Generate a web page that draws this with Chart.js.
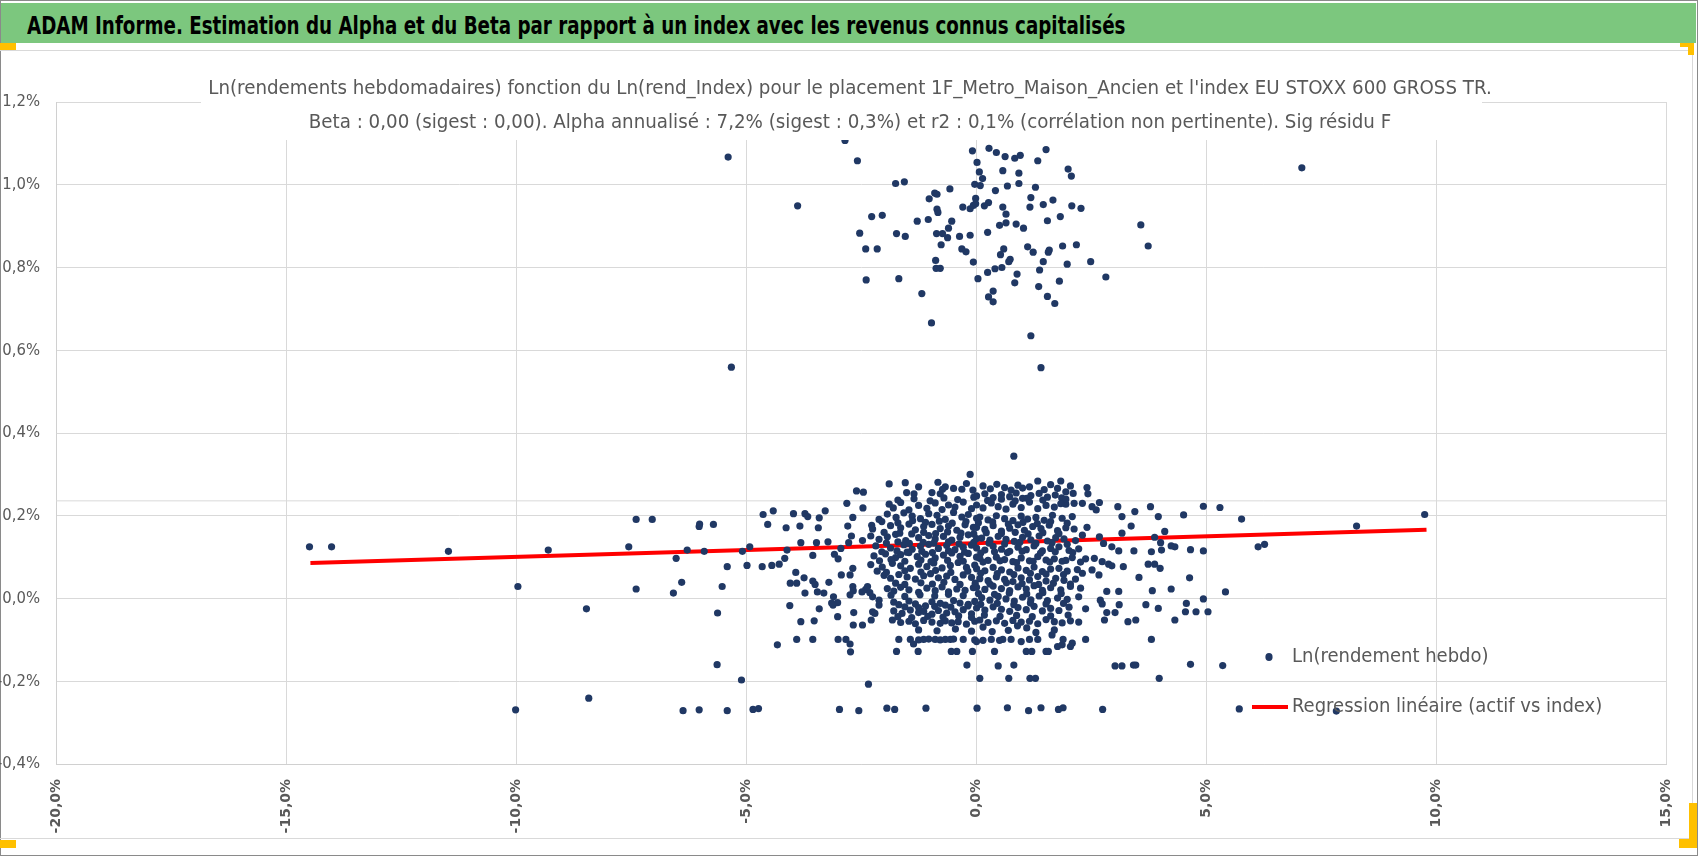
<!DOCTYPE html>
<html lang="fr">
<head>
<meta charset="utf-8">
<title>ADAM Informe - Alpha et Beta</title>
<script src="https://cdn.jsdelivr.net/npm/chart.js@4.4.1/dist/chart.umd.min.js"></script>
<style>
  html, body { margin: 0; padding: 0; background: #fff; }
  #page { position: relative; width: 1698px; height: 856px; overflow: hidden; }
  #frame { position: absolute; left: 0; top: 0; width: 1698px; height: 856px; border: 1px solid #8a8a8a; box-sizing: border-box; }
  #header { position: absolute; left: 1px; top: 3px; width: 1695px; height: 40px; background: #7cc77e; }
  #header span {
    position: absolute; left: 26px; top: 11px; white-space: nowrap; color: #000;
    font: bold 24px/24px "Liberation Sans Narrow", "DejaVu Sans Condensed", sans-serif;
    transform: scaleX(0.847); transform-origin: 0 50%;
  }
  #box { position: absolute; left: 0; top: 50px; width: 1693px; height: 789px; box-sizing: border-box;
    border-top: 1px solid #d9d9d9; border-right: 1px solid #d9d9d9; border-bottom: 1px solid #d9d9d9; }
  #chart { position: absolute; left: 0; top: 50px; }
  .handle { position: absolute; background: #ffc000; }
</style>
</head>
<body>
<div id="page">
  <div id="frame"></div>
  <div id="header"><span>ADAM Informe. Estimation du Alpha et du Beta par rapport à un index avec les revenus connus capitalisés</span></div>
  <div id="box"></div>
  <canvas id="chart" width="1698" height="788"></canvas>
  <div class="handle" style="left:0;top:43px;width:16px;height:7px"></div>
  <div class="handle" style="left:1680px;top:43px;width:14px;height:4px"></div>
  <div class="handle" style="left:1688px;top:43px;width:6px;height:12px"></div>
  <div class="handle" style="left:0;top:840px;width:16px;height:8px"></div>
  <div class="handle" style="left:1689px;top:803px;width:8px;height:45px"></div>
  <div class="handle" style="left:1679px;top:839px;width:18px;height:9px"></div>
</div>
<script>
// x = Ln(rend_Index) in %, y = Ln(rendement hebdo) in %
const titleLines = [
  "Ln(rendements hebdomadaires) fonction du Ln(rend_Index) pour le placement 1F_Metro_Maison_Ancien et l'index EU STOXX 600 GROSS TR.",
  "Beta : 0,00 (sigest : 0,00). Alpha annualisé : 7,2% (sigest : 0,3%) et r2 : 0,1% (corrélation non pertinente). Sig résidu F"
];
const xTicks = { min: -20, max: 15, step: 5 };
const yTicks = { min: -0.4, max: 1.2, step: 0.2 };

// weeks far above the main cloud
const topCluster = [
  [-2.85,1.107],[-2.58,1.058],[-1.75,1.003],[-1.56,1.007],[-2.27,0.923],[-2.04,0.926],[-2.53,0.883],[-2.40,0.845],
  [-2.15,0.845],[-1.73,0.882],[-1.54,0.875],[-2.39,0.770],[-1.68,0.773],[-1.18,0.737],[-0.97,0.666],[-1.28,0.912],
  [-1.04,0.916],[-1.02,0.966],[-0.90,0.980],[-0.85,0.977],[-0.57,0.990],[-0.85,0.941],[-0.83,0.933],[-0.53,0.912],
  [-0.60,0.895],[-0.62,0.872],[-0.86,0.882],[-0.73,0.882],[-0.76,0.855],[-0.88,0.817],[-0.87,0.798],[-0.78,0.798],
  [-0.36,0.875],[-0.31,0.845],[-0.22,0.838],[-0.13,0.878],[-0.29,0.946],[-0.13,0.942],[-0.06,0.950],[-0.01,0.954],
  [-0.01,0.967],[-0.03,1.001],[0.09,0.998],[0.14,1.015],[0.07,1.031],[0.02,1.054],[-0.08,1.082],[0.28,1.088],
  [0.44,1.078],[0.63,1.068],[0.84,1.064],[0.96,1.071],[1.52,1.085],[1.34,1.058],[0.58,1.034],[0.93,1.028],
  [0.93,1.003],[0.68,0.997],[0.42,0.986],[1.29,0.994],[1.19,0.969],[1.17,0.946],[1.46,0.952],[1.67,0.963],
  [2.00,1.038],[2.07,1.021],[2.08,0.949],[2.28,0.943],[1.83,0.923],[1.55,0.913],[0.27,0.957],[0.18,0.949],
  [0.58,0.946],[0.65,0.929],[0.65,0.908],[0.51,0.902],[0.87,0.905],[1.03,0.895],[0.25,0.885],[0.60,0.845],
  [0.53,0.831],[0.74,0.820],[0.71,0.814],[0.56,0.800],[0.41,0.797],[0.25,0.788],[0.04,0.773],[-0.06,0.813],
  [0.89,0.784],[0.84,0.763],[0.37,0.743],[0.27,0.729],[0.37,0.717],[1.12,0.850],[1.24,0.837],[1.59,0.842],
  [1.57,0.837],[1.88,0.852],[2.18,0.855],[1.46,0.814],[1.38,0.794],[1.98,0.808],[2.49,0.814],[2.82,0.777],
  [1.81,0.767],[1.36,0.754],[1.55,0.730],[1.71,0.713],[1.19,0.635],[1.41,0.558],[3.58,0.903],[3.74,0.852],
  [-5.39,1.067],[-5.32,0.559],[-3.88,0.949],[7.08,1.041]
];

// left tail, index below about -3 %
const leftTail = [
  [-14.49,0.125],[-14.01,0.125],[-11.47,0.114],[-9.30,0.117],[-9.96,0.029],[-8.47,-0.025],[-8.42,-0.241],[-10.01,-0.269],
  [-7.55,0.125],[-7.39,0.191],[-7.04,0.191],[-7.39,0.023],[-6.58,0.013],[-6.40,0.039],[-6.52,0.097],[-6.28,0.117],
  [-6.02,0.174],[-6.01,0.180],[-5.71,0.179],[-5.91,0.114],[-5.41,0.077],[-5.52,0.029],[-5.62,-0.035],[-5.63,-0.160],
  [-5.10,-0.197],[-6.37,-0.271],[-6.02,-0.269],[-5.41,-0.271],[-4.85,-0.268],[-4.73,-0.266],[-5.08,0.114],[-4.92,0.125],
  [-4.98,0.080],[-4.65,0.077],[-4.44,0.080],[-4.28,0.083],[-4.16,0.097],[-4.11,0.117],[-4.63,0.203],[-4.41,0.212],
  [-4.53,0.179],[-4.13,0.171],[-3.97,0.205],[-3.83,0.175],[-3.72,0.205],[-3.66,0.198],[-3.81,0.135],[-3.47,0.135],
  [-3.41,0.195],[-3.43,0.171],[-3.28,0.212],[-3.22,0.137],[-3.55,0.104],[-3.92,0.063],[-4.04,0.037],[-3.90,0.037],
  [-3.74,0.050],[-3.55,0.042],[-3.50,0.034],[-3.72,0.013],[-3.45,0.016],[-3.31,0.013],[-3.20,0.039],[-4.05,-0.017],
  [-3.41,-0.025],[-3.81,-0.056],[-3.52,-0.054],[-3.90,-0.099],[-3.55,-0.099],[-4.32,-0.112],[-3.14,-0.011]
];

// main cloud, negative index side
const denseWest = [
  [-2.81,0.230],[-2.60,0.260],[-2.45,0.257],[-2.46,0.219],[-2.68,0.196],[-2.79,0.175],[-2.71,0.151],[-2.27,0.177],
  [-2.11,0.191],[-2.77,0.135],[-2.47,0.140],[-3.08,0.107],[-3.00,0.096],[-2.94,0.121],[-2.68,0.073],[-2.93,0.057],
  [-2.74,0.057],[-2.68,0.029],[-2.74,0.009],[-2.67,0.019],[-2.48,0.016],[-2.40,0.022],[-2.31,0.014],[-2.25,0.004],
  [-2.36,0.029],[-3.10,0.004],[-3.01,-0.010],[-3.11,-0.016],[-2.66,-0.034],[-3.01,-0.044],[-2.67,-0.064],[-2.47,-0.064],
  [-2.28,-0.052],[-2.25,-0.032],[-2.20,-0.036],[-2.11,-0.004],[-2.11,-0.016],[-3.00,-0.099],[-2.83,-0.099],[-2.74,-0.110],
  [-2.73,-0.129],[-2.34,-0.207],[-2.97,-0.268],[-2.55,-0.271],[-1.94,-0.265],[-1.77,-0.268],[-1.09,-0.265],[0.02,-0.265],
  [-0.20,-0.161],[0.08,-0.193],
  [-1.89,0.277],[-1.54,0.280],[-1.25,0.270],[-1.51,0.256],[-1.35,0.253],[-0.13,0.300],[-0.21,0.278],[-0.83,0.281],
  [-0.67,0.270],[-0.49,0.266],[-0.31,0.264],[-0.07,0.262],[-0.96,0.256],[-0.78,0.253],[-0.73,0.264],
  [-1.89,0.228],[-1.80,0.219],[-1.64,0.232],[-1.46,0.214],[-1.25,0.225],[-1.07,0.218],[-0.89,0.231],[-0.74,0.215],[-0.60,0.226],[-0.46,0.221],[-0.28,0.233],[-0.10,0.217],
  [-1.93,0.204],[-1.74,0.196],[-1.57,0.207],[-1.39,0.199],[-1.21,0.193],[-1.03,0.205],[-0.85,0.201],[-0.67,0.191],[-0.49,0.208],[-0.31,0.197],[-0.17,0.203],[0.01,0.194],
  [-2.25,0.168],[-1.86,0.176],[-1.64,0.171],[-1.46,0.180],[-1.32,0.166],[-1.14,0.174],[-0.96,0.179],[-0.78,0.169],[-0.60,0.175],[-0.42,0.165],[-0.24,0.178],[-0.06,0.172],
  [-2.29,0.151],[-2.11,0.143],[-1.93,0.149],[-1.75,0.155],[-1.53,0.140],[-1.25,0.147],[-1.03,0.152],[-0.89,0.144],[-0.71,0.150],[-0.53,0.141],[-0.35,0.148],[-0.17,0.154],[0.01,0.145],
  [-2.18,0.127],[-1.86,0.122],[-1.57,0.130],[-1.39,0.119],[-1.21,0.126],[-1.03,0.131],[-0.82,0.121],[-0.64,0.128],[-0.46,0.118],[-0.28,0.124],[-0.10,0.129],
  [-2.22,0.103],[-1.97,0.108],[-1.75,0.099],[-1.64,0.106],[-1.46,0.111],[-1.28,0.101],[-1.10,0.107],[-0.89,0.098],[-0.71,0.105],[-0.53,0.110],[-0.35,0.102],[-0.17,0.109],[0.01,0.100],
  [-2.29,0.082],[-2.04,0.076],[-1.82,0.085],[-1.64,0.079],[-1.43,0.073],[-1.25,0.083],[-1.07,0.077],[-0.92,0.086],[-0.74,0.074],[-0.56,0.080],[-0.39,0.087],[-0.21,0.075],[-0.03,0.081],
  [-2.00,0.056],[-1.86,0.049],[-1.68,0.058],[-1.50,0.052],[-1.32,0.047],[-1.14,0.055],[-0.99,0.060],[-0.82,0.050],[-0.64,0.054],[-0.46,0.046],[-0.28,0.057],[-0.10,0.051],
  [-1.93,0.024],[-1.79,0.018],[-1.64,0.027],[-1.46,0.021],[-1.25,0.015],[-1.07,0.025],[-0.89,0.019],[-0.74,0.028],[-0.60,0.016],[-0.42,0.023],[-0.24,0.020],[-0.06,0.026],
  [-1.79,-0.009],[-1.68,-0.015],[-1.46,-0.006],[-1.32,-0.013],[-1.10,-0.018],[-0.96,-0.008],[-0.78,-0.012],[-0.67,-0.016],[-0.49,-0.005],[-0.35,-0.011],[-0.17,-0.014],[-0.03,-0.007],
  [-1.79,-0.030],[-1.61,-0.036],[-1.43,-0.028],[-1.25,-0.034],[-1.14,-0.031],[-0.96,-0.038],[-0.82,-0.029],[-0.64,-0.035],[-0.46,-0.032],[-0.28,-0.027],[-0.10,-0.037],
  [-1.82,-0.052],[-1.64,-0.058],[-1.46,-0.055],[-1.32,-0.061],[-1.14,-0.053],[-0.96,-0.057],[-0.78,-0.060],[-0.67,-0.054],[-0.53,-0.059],[-0.39,-0.056],[-0.21,-0.062],[-0.03,-0.055],
  [-1.68,-0.099],[-1.43,-0.099],[-1.25,-0.100],[-1.14,-0.099],[-1.03,-0.098],[-0.89,-0.099],[-0.78,-0.100],[-0.67,-0.099],[-0.56,-0.099],[-0.49,-0.098],[-0.28,-0.099],[-0.03,-0.100],
  [-1.73,-0.128],[-1.36,-0.110],[-1.26,-0.128],[-0.54,-0.128],[-0.42,-0.128],[-0.08,-0.128]
];

// main cloud, positive index side
const denseEast = [
  [0.82,0.344],[1.34,0.284],[1.84,0.284],[2.05,0.272],[2.41,0.268],[1.95,0.258],[2.11,0.254],[2.43,0.253],
  [1.95,0.228],[2.13,0.230],[2.31,0.230],[2.52,0.222],[2.68,0.232],[2.61,0.214],[3.08,0.222],[3.17,0.198],
  [3.45,0.210],[3.79,0.222],[3.96,0.198],[4.51,0.202],[3.37,0.175],[3.17,0.158],[2.41,0.172],[2.31,0.153],
  [2.68,0.149],[2.77,0.133],[2.95,0.125],[3.10,0.115],[3.43,0.115],[3.81,0.113],[4.01,0.135],[4.10,0.162],
  [4.03,0.117],[4.24,0.127],[3.88,0.148],[4.32,0.125],[2.38,0.096],[2.57,0.097],[2.74,0.089],[2.88,0.083],
  [2.95,0.079],[3.20,0.077],[3.74,0.083],[3.88,0.083],[4.00,0.073],[2.52,0.069],[2.67,0.057],[2.31,0.061],
  [3.54,0.051],[3.83,0.019],[4.24,0.023],[2.84,0.017],[3.10,0.017],[2.70,-0.004],[2.74,-0.013],[3.11,-0.015],
  [3.69,-0.015],[3.96,-0.024],[4.32,-0.052],[2.84,-0.034],[3.02,-0.034],[2.79,-0.052],[3.30,-0.056],[3.47,-0.052],
  [2.38,-0.099],[3.81,-0.099],[3.02,-0.163],[3.17,-0.163],[3.42,-0.161],[3.47,-0.161],[3.98,-0.193],
  [0.01,-0.104],[0.15,-0.101],[0.33,-0.099],[0.51,-0.101],[0.58,-0.099],[0.76,-0.099],[0.98,-0.104],[1.16,-0.099],
  [1.34,-0.099],[1.65,-0.088],[1.89,-0.099],[2.09,-0.108],[1.77,-0.116],[1.87,-0.112],[2.05,-0.116],[0.40,-0.128],
  [1.09,-0.128],[1.21,-0.128],[1.52,-0.128],[1.57,-0.128],[0.48,-0.163],[0.82,-0.161],[0.71,-0.193],[1.17,-0.193],
  [1.29,-0.193],[0.68,-0.264],[1.14,-0.271],[1.41,-0.264],[1.79,-0.268],[1.89,-0.264],[2.75,-0.268],
  [0.15,0.272],[0.31,0.265],[0.45,0.276],[0.62,0.268],[0.76,0.262],[0.91,0.274],[1.01,0.267],[1.16,0.270],[1.48,0.263],[1.62,0.275],[1.77,0.266],
  [0.01,0.248],[0.19,0.253],[0.37,0.244],[0.55,0.251],[0.73,0.246],[0.87,0.255],[1.01,0.242],[1.19,0.249],[1.37,0.254],[1.55,0.245],[1.72,0.250],[1.86,0.243],
  [0.01,0.226],[0.15,0.219],[0.33,0.231],[0.48,0.222],[0.65,0.216],[0.80,0.228],[0.98,0.220],[1.16,0.233],[1.34,0.217],[1.52,0.225],[1.70,0.221],[1.84,0.229],
  [0.08,0.197],[0.26,0.190],[0.44,0.200],[0.62,0.193],[0.80,0.188],[0.98,0.199],[1.12,0.192],[1.30,0.196],[1.48,0.189],[1.66,0.201],[1.87,0.194],[2.09,0.198],
  [0.01,0.172],[0.19,0.167],[0.37,0.176],[0.55,0.163],[0.73,0.170],[0.91,0.178],[1.05,0.165],[1.23,0.174],[1.41,0.169],[1.59,0.177],[1.77,0.164],[1.95,0.171],[2.13,0.168],
  [0.12,0.146],[0.30,0.141],[0.48,0.150],[0.65,0.143],[0.83,0.138],[1.01,0.148],[1.19,0.142],[1.37,0.151],[1.55,0.139],[1.73,0.147],[1.91,0.144],[2.16,0.140],
  [0.01,0.122],[0.19,0.117],[0.37,0.126],[0.55,0.119],[0.73,0.114],[0.91,0.124],[1.09,0.118],[1.26,0.127],[1.44,0.115],[1.62,0.121],[1.80,0.125],[2.02,0.116],[2.23,0.120],
  [0.08,0.097],[0.26,0.092],[0.44,0.100],[0.62,0.094],[0.80,0.089],[0.98,0.098],[1.16,0.091],[1.34,0.101],[1.52,0.093],[1.70,0.096],[1.87,0.090],[2.09,0.099],[2.27,0.088],
  [0.01,0.072],[0.19,0.067],[0.37,0.075],[0.55,0.069],[0.73,0.064],[0.91,0.074],[1.09,0.068],[1.26,0.076],[1.44,0.065],[1.62,0.071],[1.80,0.073],[1.98,0.066],[2.20,0.070],
  [0.08,0.048],[0.26,0.043],[0.44,0.052],[0.62,0.046],[0.80,0.041],[0.98,0.050],[1.16,0.045],[1.34,0.053],[1.52,0.042],[1.73,0.049],[1.91,0.044],[2.16,0.047],
  [0.01,0.027],[0.19,0.022],[0.37,0.030],[0.55,0.024],[0.73,0.019],[0.91,0.028],[1.09,0.023],[1.26,0.031],[1.44,0.020],[1.62,0.026],[1.84,0.021],[2.05,0.029],[2.27,0.025],
  [0.12,0.002],[0.30,-0.004],[0.48,0.005],[0.65,-0.001],[0.83,-0.006],[1.01,0.003],[1.19,-0.003],[1.37,0.006],[1.55,-0.005],[1.77,0.001],[1.98,-0.002],[2.23,0.004],
  [0.01,-0.023],[0.19,-0.028],[0.37,-0.020],[0.55,-0.026],[0.73,-0.031],[0.91,-0.022],[1.09,-0.027],[1.26,-0.019],[1.44,-0.030],[1.62,-0.024],[1.80,-0.029],[2.02,-0.021],[2.38,-0.025],
  [0.08,-0.052],[0.26,-0.058],[0.44,-0.054],[0.62,-0.060],[0.80,-0.053],[0.98,-0.057],[1.16,-0.055],[1.34,-0.061],[1.52,-0.051],[1.70,-0.056],[1.87,-0.059],[2.05,-0.054],[2.23,-0.057],
  [0.15,-0.069],[0.90,-0.066],[1.10,-0.071]
];

// core of the cloud, where single dots cannot be told apart
const denseCore = [
  [-1.70,0.238],[-1.35,0.241],[-1.00,0.236],[-0.70,0.243],[-0.40,0.239],[-0.05,0.245],[0.25,0.237],[0.55,0.240],[0.85,0.236],[1.10,0.242],[1.45,0.238],[1.95,0.240],
  [-2.05,0.186],[-1.70,0.183],[-1.38,0.188],[-1.10,0.184],[-0.80,0.187],[-0.52,0.182],[-0.22,0.186],[0.05,0.183],[0.36,0.185],[0.70,0.180],[1.02,0.184],[1.33,0.181],[1.62,0.186],[1.98,0.182],
  [-2.00,0.160],[-1.66,0.158],[-1.40,0.156],[-1.14,0.160],[-0.88,0.157],[-0.62,0.161],[-0.33,0.158],[-0.05,0.156],[0.22,0.159],[0.55,0.157],[0.85,0.160],[1.13,0.156],[1.45,0.159],[1.80,0.157],
  [-1.95,0.134],[-1.70,0.137],[-1.45,0.133],[-1.15,0.136],[-0.92,0.134],[-0.60,0.137],[-0.37,0.132],[-0.05,0.136],[0.28,0.134],[0.62,0.132],[0.95,0.136],[1.30,0.133],[1.65,0.135],[1.98,0.131],
  [-2.05,0.113],[-1.72,0.115],[-1.50,0.112],[-1.18,0.114],[-0.95,0.111],[-0.60,0.115],[-0.25,0.112],[0.10,0.110],[0.40,0.113],[0.68,0.111],[1.00,0.114],[1.40,0.110],[1.72,0.113],[2.10,0.111],
  [-2.10,0.091],[-1.85,0.094],[-1.55,0.090],[-1.20,0.093],[-0.98,0.089],[-0.62,0.092],[-0.28,0.090],[0.15,0.088],[0.52,0.091],[0.88,0.087],[1.24,0.090],[1.60,0.088],[1.95,0.092],
  [-2.15,0.066],[-1.95,0.063],[-1.55,0.067],[-1.20,0.064],[-0.88,0.068],[-0.55,0.063],[-0.18,0.066],[0.10,0.061],[0.46,0.060],[0.82,0.058],[1.18,0.061],[1.52,0.059],[1.90,0.058],
  [-1.75,0.037],[-1.55,0.034],[-1.20,0.038],[-0.95,0.035],[-0.70,0.039],[-0.35,0.034],[-0.02,0.037],[0.30,0.035],[0.66,0.038],[1.00,0.036],[1.36,0.034],[1.68,0.037],[2.05,0.035],
  [-1.85,0.008],[-1.55,0.005],[-1.22,0.009],[-0.90,0.006],[-0.60,0.010],[-0.28,0.007],[0.05,0.012],[0.40,0.010],[0.72,0.013],[1.10,0.011],[1.45,0.014],[1.85,0.012],
  [-1.55,-0.020],[-1.25,-0.022],[-0.90,-0.019],[-0.55,-0.021],[-0.18,-0.018],[0.10,-0.014],[0.46,-0.012],[0.82,-0.015],[1.18,-0.011],[1.52,-0.013],[1.90,-0.012],
  [-1.70,-0.044],[-1.40,-0.046],[-1.05,-0.043],[-0.72,-0.045],[-0.38,-0.042],[-0.10,-0.046],[0.18,-0.040],[0.52,-0.043],[0.88,-0.041],[1.22,-0.044],[1.62,-0.042],[2.00,-0.040],
  [-1.25,-0.076],[-0.85,-0.078],[-0.45,-0.074],[-0.10,-0.079],[0.35,-0.080],[0.70,-0.077],[1.30,-0.082],[1.70,-0.076]
];

// right tail, index above about 4.5 %
const rightTail = [
  [4.94,0.223],[5.30,0.220],[5.77,0.192],[8.27,0.175],[9.75,0.203],[4.66,0.118],[4.94,0.115],[6.13,0.125],
  [6.27,0.131],[4.64,0.050],[5.42,0.016],[4.94,-0.001],[4.57,-0.012],[4.55,-0.032],[4.78,-0.032],[5.04,-0.032],
  [4.66,-0.159],[5.36,-0.162],[5.72,-0.267],[7.83,-0.272]
];

// fitted line (two ends of the trend)
const regIndex = [-14.47, 9.79];
const regAsset = [0.086, 0.166];
// faint horizontal rule just above the 0,2% gridline
const guideLevel = 0.236;

const NARROW = '"Liberation Sans Narrow", "DejaVu Sans Condensed", sans-serif';
const GREY = '#595959';

function pct(v, digits) {
  if (Math.abs(v) < 1e-9) v = 0;
  return v.toFixed(digits).replace('.', ',') + '%';
}

const points = [...topCluster, ...leftTail, ...denseWest, ...denseEast, ...denseCore, ...rightTail]
  .map(([x, y]) => ({ x, y }));

// title drawn over the plot with a white backing, as in the original
const titleBox = {
  id: 'titleBox',
  afterDatasetsDraw(chart) {
    const { ctx, chartArea } = chart;
    ctx.save();
    ctx.fillStyle = '#fff';
    ctx.fillRect(201, chartArea.top - 36, 1281, 74);
    ctx.fillStyle = GREY;
    ctx.font = '20.3px ' + NARROW;
    ctx.textAlign = 'center';
    ctx.textBaseline = 'middle';
    titleLines.forEach((t, i) => ctx.fillText(t, 850, chartArea.top - 13 + i * 34));
    ctx.restore();
  }
};

// legend placed inside the plot, bottom right
const innerLegend = {
  id: 'innerLegend',
  afterDraw(chart) {
    const { ctx } = chart;
    const items = chart.data.datasets.filter(d => d.label);
    ctx.save();
    ctx.font = '20px ' + NARROW;
    ctx.textBaseline = 'middle';
    ctx.textAlign = 'left';
    items.forEach((d, i) => {
      const y = 607 + i * 50;
      if (d.showLine) {
        ctx.strokeStyle = d.borderColor;
        ctx.lineWidth = d.borderWidth;
        ctx.beginPath();
        ctx.moveTo(1252, y);
        ctx.lineTo(1288, y);
        ctx.stroke();
      } else {
        ctx.fillStyle = d.backgroundColor;
        ctx.beginPath();
        ctx.ellipse(1269, y, d.pointRadius, d.pointRadius + 0.5, 0, 0, Math.PI * 2);
        ctx.fill();
      }
      ctx.fillStyle = GREY;
      ctx.fillText(d.label, 1292, y);
    });
    ctx.restore();
  }
};

new Chart(document.getElementById('chart'), {
  type: 'scatter',
  data: {
    datasets: [
      {
        label: 'Ln(rendement hebdo)',
        data: points,
        backgroundColor: '#203864',
        borderWidth: 0,
        pointRadius: 3.6,
        pointHoverRadius: 3.6
      },
      {
        label: 'Regression linéaire (actif vs index)',
        data: regIndex.map((x, i) => ({ x, y: regAsset[i] })),
        showLine: true,
        borderColor: '#ff0000',
        borderWidth: 4,
        pointRadius: 0,
        fill: false
      },
      {
        label: '',
        data: [{ x: xTicks.min, y: guideLevel }, { x: xTicks.max, y: guideLevel }],
        showLine: true,
        borderColor: '#d9d9d9',
        borderWidth: 1,
        pointRadius: 0,
        fill: false
      }
    ]
  },
  options: {
    responsive: false,
    animation: false,
    events: [],
    layout: { padding: { top: 52, right: 17, left: 0, bottom: 0 } },
    plugins: {
      legend: { display: false },
      title: { display: false },
      tooltip: { enabled: false }
    },
    scales: {
      x: {
        type: 'linear',
        min: xTicks.min,
        max: xTicks.max,
        afterFit(scale) { scale.height = 74; },
        grid: { color: '#d9d9d9', drawTicks: false },
        border: { color: '#d0d0d0', width: 1 },
        ticks: {
          stepSize: xTicks.step,
          minRotation: 90,
          maxRotation: 90,
          padding: 15,
          color: GREY,
          font: { family: 'DejaVu Sans', size: 14, weight: 'bold' },
          callback: v => pct(v, 1)
        }
      },
      y: {
        type: 'linear',
        min: yTicks.min,
        max: yTicks.max,
        afterFit(scale) { scale.width = 56; },
        grid: { color: '#d9d9d9', drawTicks: false },
        border: { color: '#d0d0d0', width: 1 },
        ticks: {
          stepSize: yTicks.step,
          padding: 16,
          color: GREY,
          font: { family: NARROW, size: 16.5 },
          callback: v => pct(v, 1)
        }
      }
    }
  },
  plugins: [titleBox, innerLegend]
});
</script>
</body>
</html>
